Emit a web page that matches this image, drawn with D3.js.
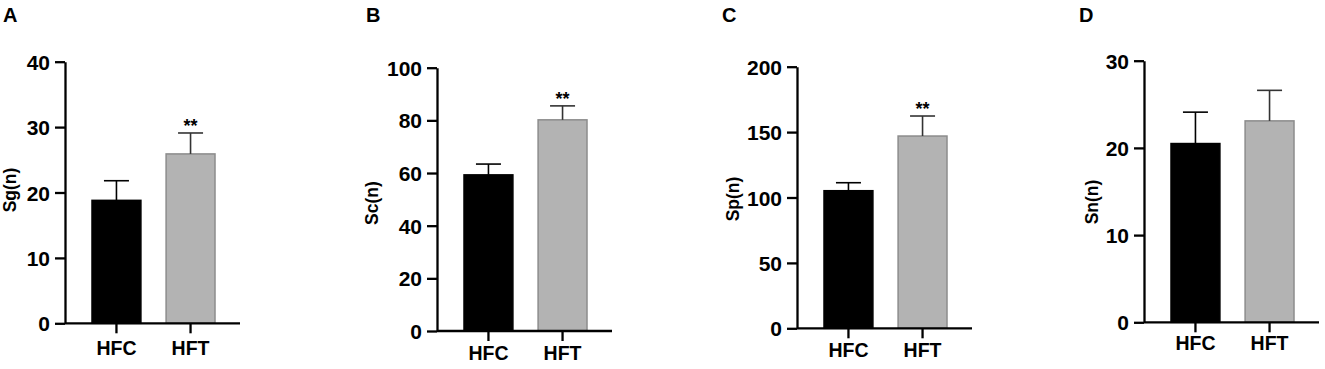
<!DOCTYPE html>
<html>
<head>
<meta charset="utf-8">
<script src="https://cdn.jsdelivr.net/npm/d3@7"></script>
<style>
  body { margin: 0; background: #fff; }
  text { font-family: "Liberation Sans", Arial, sans-serif; font-weight: bold; }
</style>
</head>
<body>
<svg id="fig" width="1325" height="369"></svg>
<script>
// data
var groups = ["HFC", "HFT"];
var sgMean = [18.8, 25.9], sgErr = [3.0, 3.2];
var scMean = [59.3, 80.2], scErr = [4.1, 5.3];
var spMean = [105.2, 147.0], spErr = [6.1, 15.3];
var snMean = [20.5, 23.1], snErr = [3.6, 3.5];
var sgTicks = [0, 10, 20, 30, 40];
var scTicks = [0, 20, 40, 60, 80, 100];
var spTicks = [0, 50, 100, 150, 200];
var snTicks = [0, 10, 20, 30];
var sgStars = ["", "**"], scStars = ["", "**"], spStars = ["", "**"], snStars = ["", ""];

var panels = [
  {letter: "A", title: "Sg(n)", mean: sgMean, err: sgErr, ticks: sgTicks, stars: sgStars,
   x0: 65, top: 61.7, bot: 323.3, lx: 3, tx: 16, ty: 190, pad: 8},
  {letter: "B", title: "Sc(n)", mean: scMean, err: scErr, ticks: scTicks, stars: scStars,
   x0: 437, top: 67.7, bot: 331, lx: 366, tx: 378, ty: 203, pad: 5},
  {letter: "C", title: "Sp(n)", mean: spMean, err: spErr, ticks: spTicks, stars: spStars,
   x0: 797, top: 66.7, bot: 328.3, lx: 722, tx: 739, ty: 199, pad: 5},
  {letter: "D", title: "Sn(n)", mean: snMean, err: snErr, ticks: snTicks, stars: snStars,
   x0: 1144, top: 60.7, bot: 322.3, lx: 1079, tx: 1098, ty: 202, pad: 4}
];

var svg = d3.select("#fig");
svg.append("rect").attr("width", 1325).attr("height", 369).attr("fill", "#fff");

panels.forEach(function(p) {
  var y = d3.scaleLinear().domain([0, d3.max(p.ticks)]).range([p.bot, p.top]);
  var x = d3.scaleBand().domain(groups).range([27, 150]).paddingInner(0.34);
  var g = svg.append("g").attr("transform", "translate(" + p.x0 + ",0)");

  // bars
  g.selectAll("rect.bar").data(groups).enter().append("rect")
    .attr("class", "bar")
    .attr("x", d => x(d))
    .attr("width", x.bandwidth())
    .attr("y", (d, i) => y(p.mean[i]))
    .attr("height", (d, i) => y(0) - y(p.mean[i]))
    .attr("fill", (d, i) => i == 0 ? "#000" : "#b3b3b3")
    .attr("stroke", (d, i) => i == 0 ? "#000" : "#8c8c8c")
    .attr("stroke-width", 1.5);

  // upper error bars
  var cx = d => x(d) + x.bandwidth() / 2;
  g.selectAll("line.err").data(groups).enter().append("line")
    .attr("x1", cx).attr("x2", cx)
    .attr("y1", (d, i) => y(p.mean[i]))
    .attr("y2", (d, i) => y(p.mean[i] + p.err[i]))
    .attr("stroke", (d, i) => i == 0 ? "#000" : "#333")
    .attr("stroke-width", 1.6);
  g.selectAll("line.cap").data(groups).enter().append("line")
    .attr("x1", d => cx(d) - 12.5).attr("x2", d => cx(d) + 12.5)
    .attr("y1", (d, i) => y(p.mean[i] + p.err[i]))
    .attr("y2", (d, i) => y(p.mean[i] + p.err[i]))
    .attr("stroke", (d, i) => i == 0 ? "#000" : "#333")
    .attr("stroke-width", 1.6);

  // significance marks
  g.selectAll("text.star").data(groups).enter().append("text")
    .attr("x", cx)
    .attr("y", (d, i) => y(p.mean[i] + p.err[i]) - 1)
    .attr("text-anchor", "middle")
    .style("font-size", "18px")
    .text((d, i) => p.stars[i]);

  // axes
  var ya = g.append("g")
    .call(d3.axisLeft(y).tickValues(p.ticks).tickSize(10).tickPadding(5).tickSizeOuter(0));
  ya.select(".domain").attr("stroke-width", 2.3);
  ya.selectAll(".tick line").attr("stroke-width", 2.3);
  ya.selectAll(".tick text").style("font-size", "21px").attr("fill", "#000").attr("dy", "0.36em");

  var xa = g.append("g").attr("transform", "translate(0," + p.bot + ")")
    .call(d3.axisBottom(x).tickSize(10).tickPadding(p.pad).tickSizeOuter(0));
  xa.select(".domain").attr("d", "M0,0H175").attr("stroke-width", 2.3);
  xa.selectAll(".tick line").attr("stroke-width", 2.3);
  xa.selectAll(".tick text").style("font-size", "19.5px").attr("fill", "#000");

  // axis title
  g.append("text")
    .attr("transform", "translate(" + (p.tx - p.x0) + "," + p.ty + ") rotate(-90)")
    .attr("text-anchor", "middle")
    .style("font-size", "17.5px")
    .text(p.title);

  // panel letter
  svg.append("text")
    .attr("x", p.lx).attr("y", 22)
    .style("font-size", "20px")
    .text(p.letter);
});
</script>
</body>
</html>
